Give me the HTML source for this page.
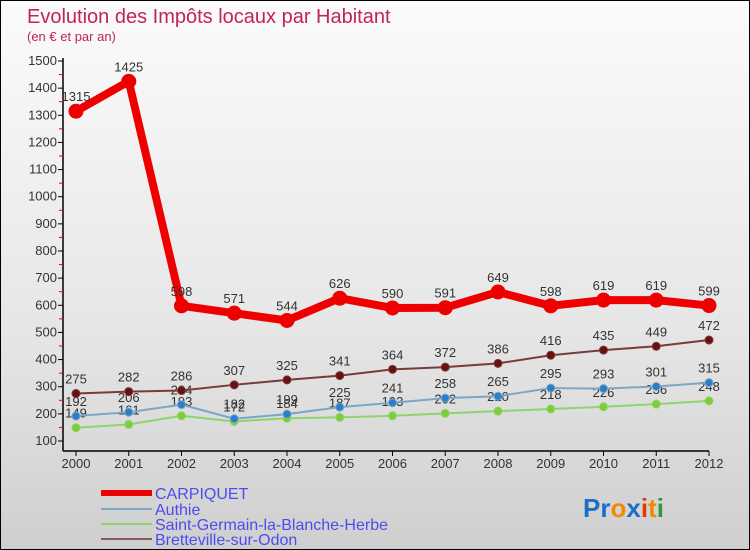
<!DOCTYPE html>
<html><head><meta charset="utf-8"><style>
body{margin:0}
#wrap{position:relative;width:748px;height:548px;border:1px solid #000;background:linear-gradient(#fbfbfb 0%,#e6e6e6 60%,#cfcfcf 100%);font-family:"Liberation Sans",sans-serif;overflow:hidden}
text{font-family:"Liberation Sans",sans-serif}
</style></head><body>
<div id="wrap">
<svg id="svg" width="748" height="548" xmlns="http://www.w3.org/2000/svg">
<text x="26" y="22" font-size="20" fill="#c0245c">Evolution des Impôts locaux par Habitant</text>
<text x="26" y="40" font-size="13" fill="#c0245c">(en € et par an)</text>
<g id="axes"></g><g id="series"></g>
<g font-size="16" fill="#4c4cf0">
<line x1="100" y1="492" x2="151" y2="492" stroke="#e00" stroke-width="6"/>
<text x="154" y="498">CARPIQUET</text>
<line x1="100" y1="508" x2="151" y2="508" stroke="#7aa6c8" stroke-width="2"/>
<text x="154" y="514">Authie</text>
<line x1="100" y1="523" x2="151" y2="523" stroke="#8fd46a" stroke-width="2"/>
<text x="154" y="529">Saint-Germain-la-Blanche-Herbe</text>
<line x1="100" y1="538" x2="151" y2="538" stroke="#8a5a5a" stroke-width="2"/>
<text x="154" y="544">Bretteville-sur-Odon</text>
</g>
<text x="582" y="516" font-size="26" font-weight="bold"><tspan fill="#1a6fc8">Pr</tspan><tspan fill="#f08a00">o</tspan><tspan fill="#1a6fc8">x</tspan><tspan fill="#e03a00">i</tspan><tspan fill="#f08a00">t</tspan><tspan fill="#2a9a3a">i</tspan></text>
</svg></div>
<script>
const years=[2000,2001,2002,2003,2004,2005,2006,2007,2008,2009,2010,2011,2012];
const yTicks=[100,200,300,400,500,600,700,800,900,1000,1100,1200,1300,1400,1500];
const carpiquet=[1315,1425,598,571,544,626,590,591,649,598,619,619,599];
const authie=[192,206,234,182,199,225,241,258,265,295,293,301,315];
const stGermain=[149,161,193,172,184,187,193,202,210,218,226,236,248];
const bretteville=[275,282,286,307,325,341,364,372,386,416,435,449,472];
const NS="http://www.w3.org/2000/svg";
const X=i=>75+i*52.75;
const Y=v=>440-(v-100)*380/1400;
function mk(tag,attrs,parent){const e=document.createElementNS(NS,tag);for(const k in attrs)e.setAttribute(k,attrs[k]);parent.appendChild(e);return e;}
const ax=document.getElementById('axes');
let l=mk('line',{x1:62,y1:57,x2:62,y2:450,stroke:'#000','stroke-width':1.5},ax);


l=mk('line',{x1:62,y1:450,x2:X(12),y2:450,stroke:'#000','stroke-width':1.5},ax);


yTicks.forEach((t,i)=>{
 mk('line',{x1:57,y1:Y(t),x2:62,y2:Y(t),stroke:'#000'},ax);
 if(i<yTicks.length-1)mk('line',{x1:58,y1:Y(t+50),x2:62,y2:Y(t+50),stroke:'#e00'},ax);
 const tx=mk('text',{x:56,y:Y(t)+4,'font-size':13,'text-anchor':'end',fill:'#333'},ax);tx.textContent=t;
 
 
});
years.forEach((yr,i)=>{
 mk('line',{x1:X(i),y1:450,x2:X(i),y2:455,stroke:'#000'},ax);
 const tx=mk('text',{x:X(i),y:467,'font-size':13,'text-anchor':'middle',fill:'#333'},ax);tx.textContent=yr;
 
 
});
const sg=document.getElementById('series');
function draw(data,name,color,dot,w,r){
 const g=mk('g',{},sg);
 
 
 const p=mk('polyline',{points:data.map((v,i)=>X(i)+','+Y(v)).join(' '),fill:'none',stroke:color,'stroke-width':w,'stroke-linejoin':'round'},g);
 
 
 data.forEach((v,i)=>{
  const c=mk('circle',{cx:X(i),cy:Y(v),r:r,fill:dot,stroke:color,'stroke-width':1},g);
  
  
  const t=mk('text',{x:X(i),y:Y(v)-10,'font-size':13,'text-anchor':'middle',fill:'#333'},g);t.textContent=v;
  
  
 });
}
draw(stGermain,'saint-germain','#8fd46a','#7ccc3c',2,4);
draw(authie,'authie','#7aa6c8','#2a7fc8',2,4);
draw(bretteville,'bretteville','#7a3a3a','#6a1010',2,4);
draw(carpiquet,'carpiquet','#ee0000','#ee0000',8,7);
</script>
</body></html>
